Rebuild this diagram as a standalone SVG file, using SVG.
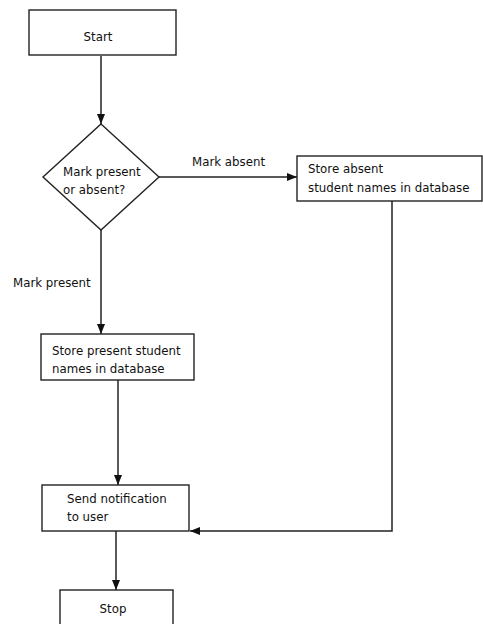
<svg xmlns="http://www.w3.org/2000/svg" width="483" height="624" viewBox="0 0 483 624">
<style>
.n{fill:#fff;stroke:#222;stroke-width:1.4}
.c{fill:none;stroke:#222;stroke-width:1.5}
text{font-family:"DejaVu Sans",Verdana,sans-serif;font-size:11.8px;fill:#111}
</style>
<defs>
<marker id="a" markerWidth="10" markerHeight="8" refX="10" refY="4" orient="auto" markerUnits="userSpaceOnUse">
<path d="M0,0 L10,4 L0,8 Z" fill="#111"/>
</marker>
</defs>
<rect width="483" height="624" fill="#fff"/>
<g id="connectors">
<path class="c" d="M101,56 V124" marker-end="url(#a)"/>
<path class="c" d="M159,177 H297" marker-end="url(#a)"/>
<path class="c" d="M101,230 V334" marker-end="url(#a)"/>
<path class="c" d="M118,380 V485" marker-end="url(#a)"/>
<path class="c" d="M392,201 V531 H190" marker-end="url(#a)"/>
<path class="c" d="M116,531 V590" marker-end="url(#a)"/>
<text x="192" y="166">Mark absent</text>
<text x="13" y="287">Mark present</text>
</g>
<g id="start">
<rect class="n" x="29" y="10" width="147" height="45"/>
<text x="98" y="41" text-anchor="middle">Start</text>
</g>
<g id="decision">
<path class="n" d="M101,124 L159,177 L101,230 L43,177 Z"/>
<text x="63" y="176">Mark present</text>
<text x="63" y="194">or absent?</text>
</g>
<g id="absent">
<rect class="n" x="297" y="156" width="185" height="45"/>
<text x="308" y="173">Store absent</text>
<text x="308" y="192">student names in database</text>
</g>
<g id="present">
<rect class="n" x="41" y="334" width="153" height="46"/>
<text x="52" y="355">Store present student</text>
<text x="52" y="373">names in database</text>
</g>
<g id="notify">
<rect class="n" x="42" y="485" width="147" height="46"/>
<text x="67" y="503">Send notification</text>
<text x="67" y="521">to user</text>
</g>
<g id="stop">
<rect class="n" x="60" y="590" width="113" height="40"/>
<text x="113" y="613" text-anchor="middle">Stop</text>
</g>
</svg>
